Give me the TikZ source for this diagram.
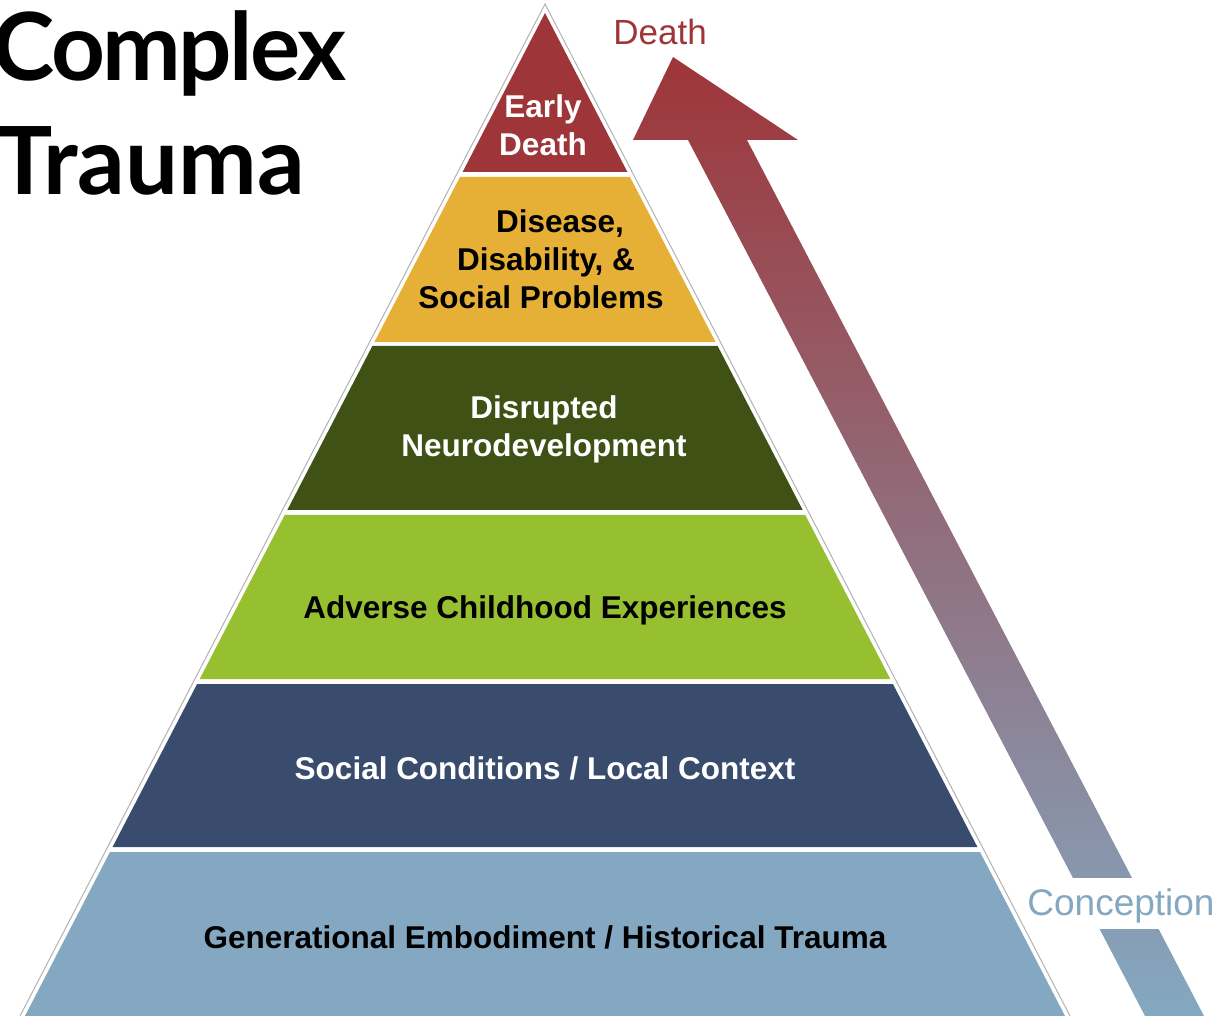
\documentclass[tikz,border=0pt]{standalone}
\usepackage{fontspec}
\setmainfont{Liberation Sans}
\newfontfamily\titlefont{Lato}
\definecolor{deathred}{HTML}{9E3539}
\definecolor{diseaseyellow}{HTML}{E5B035}
\definecolor{neurogreen}{HTML}{3F5115}
\definecolor{acegreen}{HTML}{97C031}
\definecolor{socialnavy}{HTML}{394C6D}
\definecolor{conceptblue}{HTML}{84A8C2}

\begin{document}
\begin{tikzpicture}[x=0.5pt,y=-0.5pt,
    bandtext/.style={font=\fontsize{15.75}{19}\selectfont\bfseries, align=center, inner sep=0pt},
    titletext/.style={font=\titlefont\bfseries\fontsize{47}{57}\selectfont, inner sep=0pt, anchor=base west},
    endtext/.style={inner sep=0pt, anchor=base west},
    outline/.style={draw=black!30, line width=0.5pt}]
    \useasboundingbox (0,0) rectangle (1228,1016);
    \draw[outline] (20,1016) -- (545,4) -- (1070,1016);
    \fill[deathred] (545,13) -- (627.4,172) -- (462.6,172) -- cycle;
    \foreach \ytop/\ybot/\col in {177/342/diseaseyellow, 346/510/neurogreen, 515/679/acegreen, 684/847/socialnavy, 852/1016/conceptblue}
        \fill[\col] ({545-0.5185*(\ytop-13)},\ytop) -- ({545+0.5185*(\ytop-13)},\ytop) -- ({545+0.5185*(\ybot-13)},\ybot) -- ({545-0.5185*(\ybot-13)},\ybot) -- cycle;
    \shade[top color=deathred, bottom color=conceptblue] (673,57) -- (798,140) -- (747,140) -- (1204,1016) -- (1145,1016) -- (688,140) -- (633,140) -- cycle;
    \node[titletext] (complex) at (-8,81) {\addfontfeature{LetterSpace=-2.8}Complex};
    \node[titletext] (trauma) at (-4,195) {Trauma};
    \node[bandtext, text=white] (early) at (543,125) {Early\\Death};
    \node[bandtext] (disease) at (541,259) {\hspace*{19pt}Disease,\\\hspace*{5pt}Disability, \&\\Social Problems};
    \node[bandtext, text=white] (disrupted) at (544,429) {Disrupted\\Neurodevelopment};
    \node[bandtext, anchor=base] (adverse) at (545,618) {Adverse Childhood Experiences};
    \node[bandtext, text=white, anchor=base] (social) at (545,779) {Social Conditions / Local Context};
    \node[bandtext, anchor=base] (generational) at (545,948) {Generational Embodiment / Historical Trauma};
    \node[endtext, text=deathred, font=\fontsize{17.5}{21}\selectfont] (death) at (613,45) {Death};
    \node[endtext, text=conceptblue, font=\fontsize{18.5}{22}\selectfont, fill=white, text height=18.5pt, text depth=7pt, inner xsep=1pt] (conception) at (1025,915) {Conception};
\end{tikzpicture}
\end{document}
